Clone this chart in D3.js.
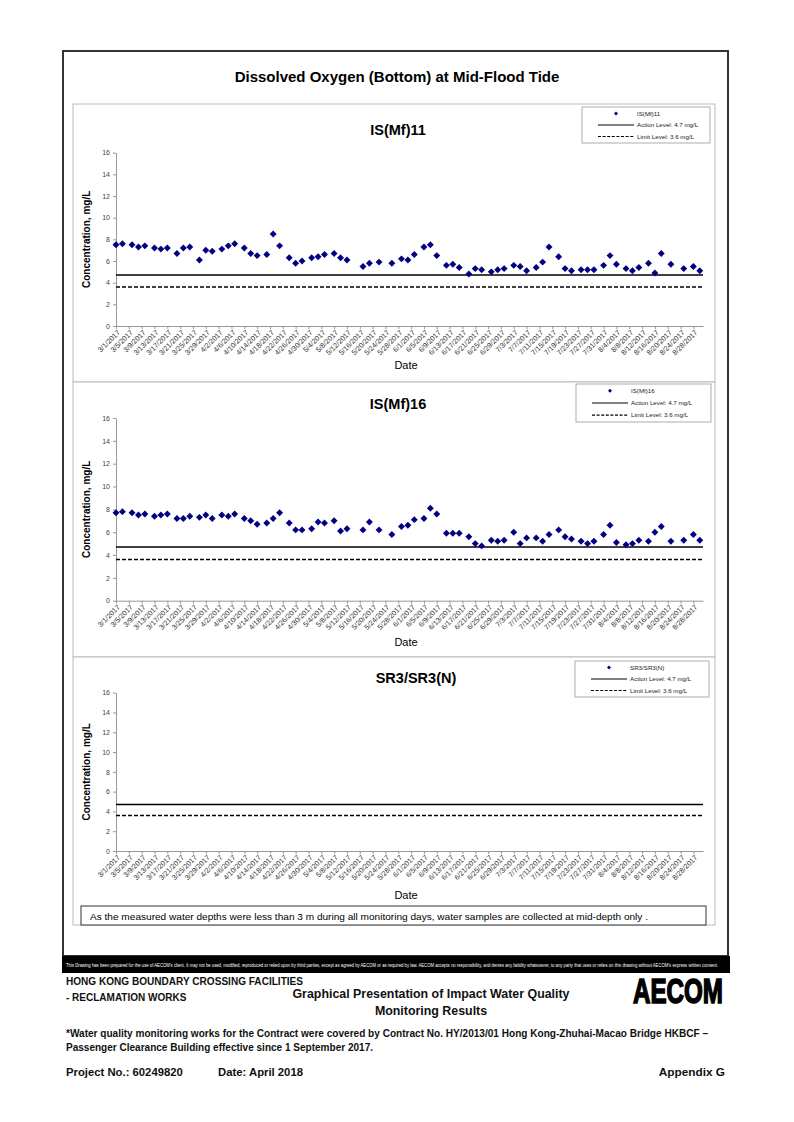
<!DOCTYPE html>
<html lang="en">

<head>
    <meta charset="UTF-8">
    <title>Dissolved Oxygen (Bottom) at Mid-Flood Tide</title>
    <style>
        * {
            margin: 0;
            padding: 0;
        }

        html,
        body {
            overflow: hidden;
            background: #fff;
        }

        text {
            font-family: "Liberation Sans", Arial, sans-serif;
        }
    </style>
</head>

<body>
    <div id="chart"></div>
    <script src="https://cdn.jsdelivr.net/npm/d3@7"></script>
    <script>
        // sampling days (same for both stations)
        const sampleDates = [
            '3/1/2017', '3/3/2017', '3/6/2017', '3/8/2017', '3/10/2017', '3/13/2017', '3/15/2017',
            '3/17/2017', '3/20/2017', '3/22/2017', '3/24/2017', '3/27/2017', '3/29/2017', '3/31/2017',
            '4/3/2017', '4/5/2017', '4/7/2017', '4/10/2017', '4/12/2017', '4/14/2017', '4/17/2017',
            '4/19/2017', '4/21/2017', '4/24/2017', '4/26/2017', '4/28/2017',
            '5/1/2017', '5/3/2017', '5/5/2017', '5/8/2017', '5/10/2017', '5/12/2017', '5/17/2017',
            '5/19/2017', '5/22/2017', '5/26/2017', '5/29/2017', '5/31/2017',
            '6/2/2017', '6/5/2017', '6/7/2017', '6/9/2017', '6/12/2017', '6/14/2017', '6/16/2017',
            '6/19/2017', '6/21/2017', '6/23/2017', '6/26/2017', '6/28/2017', '6/30/2017',
            '7/3/2017', '7/5/2017', '7/7/2017', '7/10/2017', '7/12/2017', '7/14/2017', '7/17/2017',
            '7/19/2017', '7/21/2017', '7/24/2017', '7/26/2017', '7/28/2017', '7/31/2017',
            '8/2/2017', '8/4/2017', '8/7/2017', '8/9/2017', '8/11/2017', '8/14/2017', '8/16/2017',
            '8/18/2017', '8/21/2017', '8/25/2017', '8/28/2017', '8/30/2017'
        ]

        const valuesMf11 = [
            7.5, 7.6, 7.5, 7.3, 7.4, 7.2, 7.1, 7.2, 6.7, 7.2, 7.3, 6.1, 7.0, 6.9,
            7.1, 7.4, 7.6, 7.2, 6.7, 6.5, 6.6, 8.5, 7.4, 6.3, 5.8, 6.0,
            6.3, 6.4, 6.6, 6.7, 6.3, 6.1, 5.5, 5.8, 5.9, 5.8, 6.2, 6.1,
            6.6, 7.3, 7.5, 6.5, 5.6, 5.7, 5.4, 4.8, 5.3, 5.2, 5.0, 5.2, 5.3,
            5.6, 5.5, 5.1, 5.4, 5.9, 7.3, 6.4, 5.3, 5.1, 5.2, 5.2, 5.2, 5.6,
            6.5, 5.7, 5.3, 5.1, 5.4, 5.8, 4.9, 6.7, 5.7, 5.3, 5.5, 5.1
        ]

        const valuesMf16 = [
            7.7, 7.8, 7.7, 7.5, 7.6, 7.4, 7.5, 7.6, 7.2, 7.2, 7.4, 7.3, 7.5, 7.2,
            7.5, 7.4, 7.6, 7.2, 7.0, 6.7, 6.8, 7.2, 7.7, 6.8, 6.2, 6.2,
            6.3, 6.9, 6.8, 7.0, 6.1, 6.3, 6.2, 6.9, 6.2, 5.8, 6.5, 6.6,
            7.1, 7.2, 8.1, 7.6, 5.9, 5.9, 5.9, 5.6, 5.0, 4.8, 5.3, 5.2, 5.3,
            6.0, 5.0, 5.5, 5.5, 5.2, 5.8, 6.2, 5.6, 5.4, 5.2, 5.0, 5.2, 5.8,
            6.6, 5.1, 4.9, 5.0, 5.3, 5.2, 6.0, 6.5, 5.2, 5.3, 5.8, 5.3
        ]

        // no bottom samples at SR3/SR3(N)
        const valuesSR3 = []

        const stationNames = ['IS(Mf)11', 'IS(Mf)16', 'SR3/SR3(N)']
        const actionLevel = 4.7
        const limitLevel = 3.6
        const yTicks = [0, 2, 4, 6, 8, 10, 12, 14, 16]
        const xDomain = ['3/1/2017', '8/31/2017']
        const xTickStep = 4

        const parseDate = d3.timeParse('%m/%d/%Y')
        const fmtDate = d3.timeFormat('%-m/%-d/%Y')

        function drawChart() {
            const W = 794
            const H = 1122

            const svg = d3.select('#chart')
                .append('svg')
                .attr('width', W)
                .attr('height', H)
                .style('background-color', '#fff')

            // outer frame + disclaimer bar
            svg.append('rect')
                .attr('x', 63).attr('y', 51)
                .attr('width', 665).attr('height', 905)
                .attr('fill', 'none')
                .attr('stroke', '#333')
                .attr('stroke-width', 2)

            svg.append('rect')
                .attr('x', 62).attr('y', 956)
                .attr('width', 668).attr('height', 17)
                .attr('fill', '#000')

            // squeeze the fine print horizontally so it fits the bar
            const disclaimer = svg.append('text')
                .attr('fill', '#fff')
                .attr('font-size', 5)
                .text("This Drawing has been prepared for the use of AECOM's client. It may not be used, modified, reproduced or relied upon by third parties, except as agreed by AECOM or as required by law. AECOM accepts no responsibility, and denies any liability whatsoever, to any party that uses or relies on this drawing without AECOM's express written consent.")
            const natural = disclaimer.node().getComputedTextLength()
            disclaimer.attr('transform', `translate(66,966.5) scale(${654 / natural},1)`)

            svg.append('text')
                .attr('x', 397).attr('y', 82)
                .attr('text-anchor', 'middle')
                .attr('font-size', 15)
                .attr('font-weight', 'bold')
                .text('Dissolved Oxygen (Bottom) at Mid-Flood Tide')

            const x = d3.scaleTime()
                .domain(xDomain.map(parseDate))
                .range([116, 703])

            const xTickDates = d3.timeDay.range(parseDate(xDomain[0]), parseDate(xDomain[1]), xTickStep)

            const panels = [
                { name: stationNames[0], values: valuesMf11, top: 104, bottom: 382, titleY: 135, titleX: 398, y0: 326, y16: 152.7, dateY: 369, legend: { x: 582, y: 107, w: 128, h: 36 } },
                { name: stationNames[1], values: valuesMf16, top: 382, bottom: 657, titleY: 409, titleX: 398, y0: 600.7, y16: 418, dateY: 646, legend: { x: 576, y: 384, w: 135, h: 38 } },
                { name: stationNames[2], values: valuesSR3, top: 657, bottom: 925, titleY: 683, titleX: 416, y0: 851, y16: 692.7, dateY: 899, legend: { x: 575, y: 661, w: 134, h: 36 } }
            ]

            const diamond = d3.symbol(d3.symbolSquare, 24)

            panels.forEach(p => {
                const g = svg.append('g')

                g.append('rect')
                    .attr('x', 73).attr('y', p.top)
                    .attr('width', 642).attr('height', p.bottom - p.top)
                    .attr('fill', '#fff')
                    .attr('stroke', '#bbb')
                    .attr('stroke-width', 1)

                g.append('text')
                    .attr('x', p.titleX).attr('y', p.titleY)
                    .attr('text-anchor', 'middle')
                    .attr('font-size', 14.5)
                    .attr('font-weight', 'bold')
                    .text(p.name)

                const y = d3.scaleLinear().domain([0, 16]).range([p.y0, p.y16])

                const yAxis = g.append('g')
                    .attr('transform', `translate(${x.range()[0]},0)`)
                    .call(d3.axisLeft(y).tickValues(yTicks).tickSize(3).tickSizeOuter(0).tickPadding(3))
                yAxis.select('.domain').attr('stroke', '#999')
                yAxis.selectAll('.tick line').attr('stroke', '#999')
                yAxis.selectAll('.tick text')
                    .attr('font-family', '"Liberation Sans", Arial, sans-serif')
                    .attr('font-size', 7)
                    .attr('fill', '#444')

                const xAxis = g.append('g')
                    .attr('transform', `translate(0,${p.y0})`)
                    .call(d3.axisBottom(x).tickValues(xTickDates).tickFormat(fmtDate).tickSize(3).tickSizeOuter(0))
                xAxis.select('.domain').attr('stroke', '#999')
                xAxis.selectAll('.tick line').attr('stroke', '#999')
                xAxis.selectAll('.tick text')
                    .attr('font-family', '"Liberation Sans", Arial, sans-serif')
                    .attr('font-size', 7.2)
                    .attr('fill', '#333')
                    .attr('x', 0).attr('y', 0).attr('dy', 0)
                    .attr('transform', 'translate(4,7) rotate(-45)')
                    .style('text-anchor', 'end')

                g.append('text')
                    .attr('transform', `translate(90,${(p.y0 + p.y16) / 2}) rotate(-90)`)
                    .attr('text-anchor', 'middle')
                    .attr('font-size', 10)
                    .attr('font-weight', 'bold')
                    .text('Concentration, mg/L')

                g.append('text')
                    .attr('x', 406)
                    .attr('y', p.dateY)
                    .attr('text-anchor', 'middle')
                    .attr('font-size', 11)
                    .text('Date')

                // action / limit levels
                g.append('line')
                    .attr('x1', x.range()[0]).attr('x2', x.range()[1])
                    .attr('y1', y(actionLevel)).attr('y2', y(actionLevel))
                    .attr('stroke', '#000')
                    .attr('stroke-width', 1.5)

                g.append('line')
                    .attr('x1', x.range()[0]).attr('x2', x.range()[1])
                    .attr('y1', y(limitLevel)).attr('y2', y(limitLevel))
                    .attr('stroke', '#000')
                    .attr('stroke-width', 1.5)
                    .attr('stroke-dasharray', '4,2')

                const points = p.values.map((v, i) => ({ date: parseDate(sampleDates[i]), value: v }))

                g.selectAll('path.dot')
                    .data(points)
                    .join('path')
                    .attr('class', 'dot')
                    .attr('d', diamond)
                    .attr('transform', d => `translate(${x(d.date)},${y(d.value)}) rotate(45)`)
                    .attr('fill', '#000080')

                // legend
                const L = p.legend
                const lg = g.append('g').attr('transform', `translate(${L.x},${L.y})`)
                lg.append('rect')
                    .attr('width', L.w).attr('height', L.h)
                    .attr('fill', '#fff')
                    .attr('stroke', '#999')
                    .attr('stroke-width', 0.8)

                const rowY = [L.h * 0.18, L.h * 0.5, L.h * 0.82]
                const lineX1 = 16
                const lineX2 = 52
                const textX = 55

                lg.append('path')
                    .attr('d', d3.symbol(d3.symbolSquare, 8))
                    .attr('transform', `translate(${(lineX1 + lineX2) / 2},${rowY[0]}) rotate(45)`)
                    .attr('fill', '#000080')
                lg.append('line')
                    .attr('x1', lineX1).attr('x2', lineX2)
                    .attr('y1', rowY[1]).attr('y2', rowY[1])
                    .attr('stroke', '#000').attr('stroke-width', 1.2)
                lg.append('line')
                    .attr('x1', lineX1).attr('x2', lineX2)
                    .attr('y1', rowY[2]).attr('y2', rowY[2])
                    .attr('stroke', '#000').attr('stroke-width', 1.2)
                    .attr('stroke-dasharray', '3,1.6')

                lg.selectAll('text')
                    .data([p.name, `Action Level: ${actionLevel} mg/L`, `Limit Level: ${limitLevel} mg/L`])
                    .join('text')
                    .attr('x', textX)
                    .attr('y', (d, i) => rowY[i])
                    .attr('dy', '0.35em')
                    .attr('font-size', 6.2)
                    .attr('fill', '#222')
                    .text(d => d)
            })

            // note box under the last panel
            svg.append('rect')
                .attr('x', 81).attr('y', 906)
                .attr('width', 625).attr('height', 19)
                .attr('fill', '#fff')
                .attr('stroke', '#333')
                .attr('stroke-width', 1)
            svg.append('text')
                .attr('x', 90).attr('y', 919.5)
                .attr('font-size', 9.8)
                .attr('textLength', 558)
                .attr('lengthAdjust', 'spacingAndGlyphs')
                .text('As the measured water depths were less than 3 m during all monitoring days, water samples are collected  at mid-depth only .')

            // title block
            const foot = svg.append('g').attr('font-weight', 'bold').attr('fill', '#111')
            foot.append('text').attr('x', 66).attr('y', 985).attr('font-size', 10)
                .attr('textLength', 237).attr('lengthAdjust', 'spacingAndGlyphs')
                .text('HONG KONG BOUNDARY CROSSING FACILITIES')
            foot.append('text').attr('x', 66).attr('y', 1001).attr('font-size', 10)
                .text('- RECLAMATION WORKS')
            foot.append('text').attr('x', 431).attr('y', 998).attr('font-size', 12.4)
                .attr('text-anchor', 'middle')
                .text('Graphical Presentation of Impact Water Quality')
            foot.append('text').attr('x', 431).attr('y', 1015).attr('font-size', 12.4)
                .attr('text-anchor', 'middle')
                .text('Monitoring Results')
            foot.append('text').attr('x', 66).attr('y', 1037).attr('font-size', 10)
                .attr('textLength', 642).attr('lengthAdjust', 'spacingAndGlyphs')
                .text('*Water quality monitoring works for the Contract were covered by Contract No. HY/2013/01 Hong Kong-Zhuhai-Macao Bridge HKBCF –')
            foot.append('text').attr('x', 66).attr('y', 1051).attr('font-size', 10)
                .attr('textLength', 307).attr('lengthAdjust', 'spacingAndGlyphs')
                .text('Passenger Clearance Building effective since 1 September 2017.')
            foot.append('text').attr('x', 66).attr('y', 1076).attr('font-size', 11.3)
                .text('Project No.: 60249820')
            foot.append('text').attr('x', 218).attr('y', 1076).attr('font-size', 11.3)
                .text('Date: April 2018')
            foot.append('text').attr('x', 725).attr('y', 1076).attr('font-size', 11.8)
                .attr('text-anchor', 'end')
                .text('Appendix G')

            // logo
            svg.append('text')
                .attr('x', 633).attr('y', 1003)
                .attr('font-family', '"Liberation Sans Narrow", "DejaVu Sans Condensed", Arial, sans-serif')
                .attr('font-size', 35)
                .attr('font-weight', 'bold')
                .attr('fill', '#000')
                .attr('stroke', '#000')
                .attr('stroke-width', 1.6)
                .attr('textLength', 90)
                .attr('lengthAdjust', 'spacingAndGlyphs')
                .text('AECOM')
        }

        drawChart()
    </script>
</body>

</html>
